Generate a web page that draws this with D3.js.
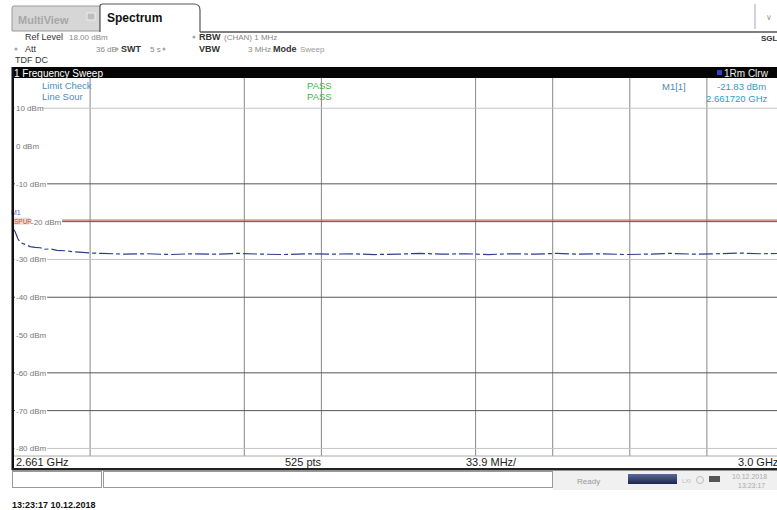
<!DOCTYPE html>
<html><head><meta charset="utf-8">
<script src="https://cdn.jsdelivr.net/npm/d3@7"></script>
<style>
html,body{margin:0;padding:0;background:#fff;}
svg{display:block;font-family:"Liberation Sans","DejaVu Sans",Arial,sans-serif;}
</style></head>
<body><svg id="c" width="777" height="510"></svg>
<script>
// ---- data ----
const freqStartGHz = 2.661;
const freqStopGHz = 3.0;
const levelTop = 18;      // Ref level dBm
const levelBottom = -82;
const levelTicks = [10, 0, -10, -20, -30, -40, -50, -60, -70, -80];
const levelTickLabels = ["10 dBm","0 dBm","-10 dBm","-20 dBm","-30 dBm","-40 dBm","-50 dBm","-60 dBm","-70 dBm","-80 dBm"];
const darkGridLevels = [-10, -20, -40, -60, -70];
const lightGridLevels = [10, -30, -80];
const freqGridGHz = [2.6949, 2.7627, 2.7966, 2.8644, 2.8983, 2.9322, 2.9661];
const limitLevel = -19.6;
const traceFreq = [2.661, 2.6619, 2.6632, 2.6645, 2.6663, 2.6685, 2.6707, 2.6729, 2.6751, 2.6773, 2.6803, 2.6839, 2.6883, 2.695,
  2.70, 2.71, 2.72, 2.73, 2.74, 2.75, 2.76, 2.77, 2.78, 2.79, 2.80, 2.81, 2.82, 2.83, 2.84, 2.85,
  2.86, 2.87, 2.88, 2.89, 2.90, 2.91, 2.92, 2.93, 2.94, 2.95, 2.96, 2.97, 2.98, 2.99, 3.00];
const traceLevel = [-21.83, -22.6, -24.6, -25.6, -26.0, -26.6, -26.8, -26.9, -27.3, -27.2, -27.6, -27.7, -28.0, -28.3,
  -28.4, -28.6, -28.5, -28.7, -28.5, -28.6, -28.4, -28.6, -28.7, -28.5, -28.6, -28.5, -28.7, -28.6, -28.4, -28.6,
  -28.5, -28.7, -28.5, -28.6, -28.4, -28.6, -28.5, -28.7, -28.6, -28.4, -28.6, -28.5, -28.3, -28.5, -28.4];
const bottomLabels = ["2.661 GHz", "525 pts", "33.9 MHz/", "3.0 GHz"];

// ---- drawing ----
const svg = d3.select("#c");
const x = d3.scaleLinear().domain([freqStartGHz, freqStopGHz]).range([13, 784]);
const y = d3.scaleLinear().domain([levelTop, levelBottom]).range([78, 456]);

// tabs
svg.append("path").attr("d","M12,31 L12,8 Q12,6 14,6 L100,6 L100,31 Z").attr("fill","#d6d6d6").attr("stroke","#9a9a9a");
svg.append("text").attr("x",18).attr("y",24).attr("font-size",11).attr("font-weight","bold").attr("fill","#a6a6a6").text("MultiView");
svg.append("rect").attr("x",87).attr("y",13).attr("width",8).attr("height",7).attr("fill","#bdbdbd").attr("stroke","#eee");
svg.append("path").attr("d","M100,32 L100,6 Q100,4 103,4 L194,4 Q200,4 200,10 L200,32").attr("fill","#fff").attr("stroke","#555").attr("stroke-width",1.2);
svg.append("text").attr("x",107).attr("y",22).attr("font-size",12).attr("font-weight","bold").attr("fill","#111").text("Spectrum");
svg.append("line").attr("x1",200).attr("x2",777).attr("y1",32).attr("y2",32).attr("stroke","#555").attr("stroke-width",1.5);
svg.append("line").attr("x1",755).attr("x2",755).attr("y1",4).attr("y2",29).attr("stroke","#aaa");
svg.append("text").attr("x",766).attr("y",20).attr("font-size",8).attr("fill","#999").text("\u2228");
svg.append("text").attr("x",761).attr("y",41).attr("font-size",8).attr("font-weight","bold").attr("fill","#333").text("SGL");

// info rows
const info = svg.append("g").attr("font-size",9).attr("fill","#333");
function t(xx, yy, s, opts){ const e = info.append("text").attr("x",xx).attr("y",yy).text(s); if(opts&&opts.b) e.attr("font-weight","bold"); if(opts&&opts.c) e.attr("fill",opts.c).attr("font-size",8); return e; }
function dot(xx, yy){ info.append("circle").attr("cx",xx).attr("cy",yy).attr("r",1.6).attr("fill","#aaa"); }
t(25,40,"Ref Level"); t(69,40,"18.00 dBm",{c:"#888"});
dot(194,37); t(199,40,"RBW",{b:1}); t(224,40,"(CHAN) 1 MHz",{c:"#888"});
dot(16,49); t(25,52,"Att"); t(96,52,"36 dB",{c:"#888"});
dot(117,49); t(121,52,"SWT",{b:1}); t(150,52,"5 s",{c:"#888"});
dot(164,49); t(199,52,"VBW",{b:1}); t(248,52,"3 MHz",{c:"#888"});
t(273,52,"Mode",{b:1}); t(300,52,"Sweep",{c:"#999"});
t(15,63,"TDF DC");

// black header bar
svg.append("rect").attr("x",12).attr("y",67).attr("width",765).attr("height",11).attr("fill","#050505");
svg.append("text").attr("x",14).attr("y",76.5).attr("font-size",10).attr("fill","#fff").text("1 Frequency Sweep");
svg.append("rect").attr("x",717).attr("y",70).attr("width",5).attr("height",5).attr("fill","#3040d0");
svg.append("text").attr("x",724).attr("y",76.5).attr("font-size",10).attr("fill","#eee").text("1Rm Clrw");

// grid
const grid = svg.append("g");
grid.selectAll("line.v").data(freqGridGHz).join("line").attr("class","v")
  .attr("x1",d=>x(d)).attr("x2",d=>x(d)).attr("y1",78).attr("y2",456).attr("stroke","#888").attr("stroke-width",1);
grid.selectAll("line.hd").data(darkGridLevels).join("line").attr("class","hd")
  .attr("x1",14).attr("x2",777).attr("y1",d=>y(d)).attr("y2",d=>y(d)).attr("stroke","#555").attr("stroke-width",1);
grid.selectAll("line.hl").data(lightGridLevels).join("line").attr("class","hl")
  .attr("x1",14).attr("x2",777).attr("y1",d=>y(d)).attr("y2",d=>y(d)).attr("stroke","#c4c4c4").attr("stroke-width",1);
svg.append("line").attr("x1",14).attr("x2",777).attr("y1",456).attr("y2",456).attr("stroke","#aaa");

// limit line
svg.append("line").attr("x1",14).attr("x2",777).attr("y1",y(limitLevel)).attr("y2",y(limitLevel)).attr("stroke","#d0705c").attr("stroke-width",1.2);

// tick labels (white background)
const lab = svg.append("g").attr("font-size",8).attr("fill","#777");
levelTicks.forEach((v,i)=>{
  const s = levelTickLabels[i];
  const lx = v === -20 ? 31 : 16;
  const w = s.length*4.3+2;
  lab.append("rect").attr("x",lx-1).attr("y",y(v)-4).attr("width",w).attr("height",8).attr("fill","#fff");
  lab.append("text").attr("x",lx).attr("y",y(v)+3).text(s);
});
svg.append("rect").attr("x",13).attr("y",y(-20)-4).attr("width",17).attr("height",7).attr("fill","#f6d6d0");
svg.append("text").attr("x",14).attr("y",y(-20)+2).attr("font-size",6.5).attr("fill","#c85040").text("SPUR");
svg.append("text").attr("x",11).attr("y",y(-20)-7).attr("font-size",7).attr("fill","#4060d0").text("M1");

// limit check block
const lc = svg.append("g").attr("font-size",9.5);
lc.append("text").attr("x",42).attr("y",89).attr("fill","#4a90c0").text("Limit Check");
lc.append("text").attr("x",42).attr("y",100).attr("fill","#4a90c0").text("Line Sour");
lc.append("text").attr("x",307).attr("y",89).attr("fill","#3cb54a").text("PASS");
lc.append("text").attr("x",307).attr("y",100).attr("fill","#3cb54a").text("PASS");
lc.append("text").attr("x",662).attr("y",90).attr("fill","#4a8ab8").text("M1[1]");
lc.append("text").attr("x",717).attr("y",90).attr("fill","#2a9ec4").text("-21.83 dBm");
lc.append("text").attr("x",706).attr("y",102).attr("fill","#2a9ec4").text("2.661720 GHz");

// trace
const pts = traceFreq.map((f,i)=>[f, traceLevel[i]]);
const line = d3.line().x(d=>x(d[0])).y(d=>y(d[1]));
svg.append("path").datum(pts).attr("d",line).attr("fill","none").attr("stroke","#2c3e8c")
  .attr("stroke-width",1.2).attr("stroke-dasharray","14 3 4 3");

// frame
svg.append("rect").attr("x",11.5).attr("y",67).attr("width",2.5).attr("height",403).attr("fill","#111");
svg.append("rect").attr("x",12).attr("y",468).attr("width",765).attr("height",2.5).attr("fill","#222");

// bottom labels
const bl = svg.append("g").attr("font-size",11).attr("fill","#222");
const blX = [16, 285, 466, 738];
bottomLabels.forEach((s,i)=> bl.append("text").attr("x",blX[i]).attr("y",466).text(s));

// status bar
svg.append("rect").attr("x",12.5).attr("y",471.5).attr("width",89).attr("height",16).attr("fill","#fff").attr("stroke","#999");
svg.append("rect").attr("x",103.5).attr("y",471.5).attr("width",449).attr("height",16).attr("fill","#fff").attr("stroke","#999");
svg.append("rect").attr("x",553).attr("y",471).attr("width",224).attr("height",19).attr("fill","#f0f0f0");
svg.append("text").attr("x",577).attr("y",484).attr("font-size",8).attr("fill","#999").text("Ready");
const grad = svg.append("defs").append("linearGradient").attr("id","pb").attr("x1",0).attr("x2",0).attr("y1",0).attr("y2",1);
grad.append("stop").attr("offset","0").attr("stop-color","#5a6a9a");
grad.append("stop").attr("offset","1").attr("stop-color","#1c2550");
svg.append("rect").attr("x",628).attr("y",474).attr("width",49).attr("height",10).attr("fill","url(#pb)");
svg.append("text").attr("x",682).attr("y",483).attr("font-size",6).attr("fill","#bbb").text("LXI");
svg.append("circle").attr("cx",700).attr("cy",480).attr("r",3.5).attr("fill","none").attr("stroke","#bbb");
svg.append("rect").attr("x",709).attr("y",476).attr("width",11).attr("height",6).attr("fill","#555");
svg.append("text").attr("x",732).attr("y",479).attr("font-size",7).attr("fill","#aaa").text("10.12.2018");
svg.append("text").attr("x",738).attr("y",488).attr("font-size",7).attr("fill","#aaa").text("13:23:17");

svg.append("text").attr("x",12).attr("y",508).attr("font-size",9).attr("font-weight","bold").attr("fill","#111").text("13:23:17  10.12.2018");
</script></body></html>
